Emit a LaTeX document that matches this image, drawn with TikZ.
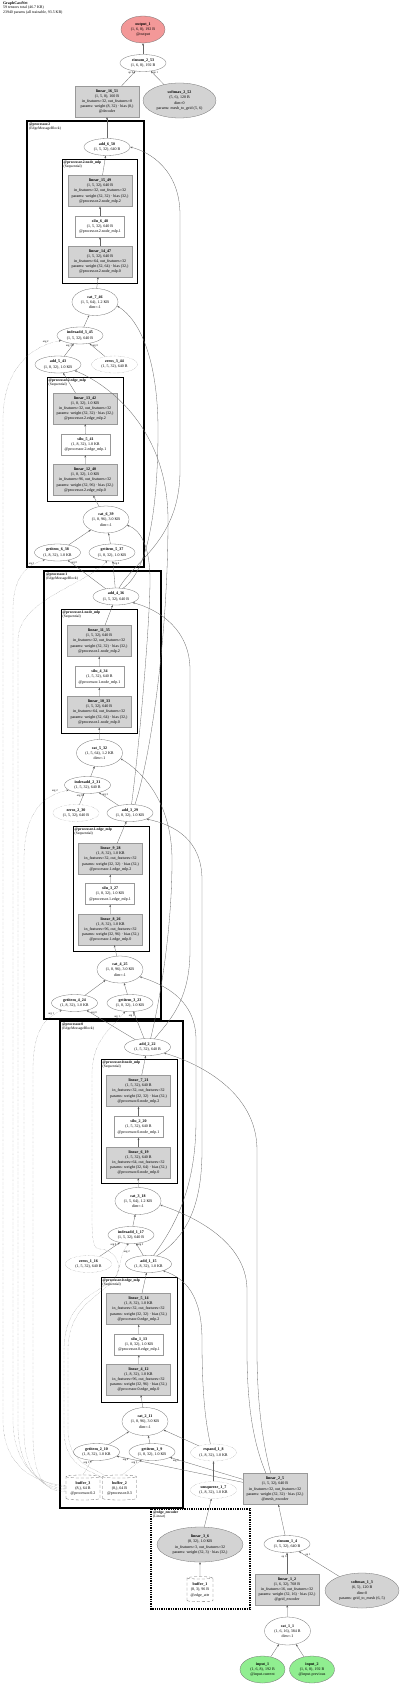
\documentclass[tikz,border=0pt]{standalone}
\usepackage{fontspec}
\setmainfont{Liberation Serif}
\usepackage{xcolor}
\usepackage{tikz}
\usetikzlibrary{shapes.geometric, arrows.meta, positioning}

\definecolor{modfill}{RGB}{211,211,211}
\definecolor{outfill}{RGB}{243,152,152}
\definecolor{infill}{RGB}{144,238,144}

\begin{document}
\begin{tikzpicture}[x=1pt, y=-1pt, >={Stealth[length=2.4pt, width=1.8pt]},
    every node/.style={font=\fontsize{4}{5.2}\selectfont, align=center},
    tensorop/.style={ellipse, draw=black!55, line width=0.3pt, fill=white, inner sep=0pt, minimum width=46pt, minimum height=17pt},
    modop/.style={tensorop, fill=modfill},
    viewop/.style={tensorop, densely dotted},
    layerbox/.style={rectangle, draw=black!40, line width=0.3pt, fill=modfill, inner sep=1pt, minimum width=64pt, minimum height=31pt},
    actbox/.style={rectangle, draw=black!40, line width=0.3pt, fill=white, inner sep=1pt, minimum width=49pt, minimum height=21pt},
    bufcyl/.style={cylinder, shape border rotate=90, aspect=0.12, draw=black!60, densely dashed, line width=0.3pt, fill=white, inner sep=0.5pt, minimum width=34pt, minimum height=25pt},
    block/.style={draw=black, line width=1.3pt},
    seq/.style={draw=black, line width=0.9pt},
    tag/.style={anchor=north west, align=left, inner sep=0pt, font=\fontsize{3.7}{4.1}\selectfont},
    lbl/.style={font=\fontsize{2.8}{3}\selectfont, inner sep=0.4pt},
    flow/.style={->, draw=black!60, line width=0.3pt},
    idx/.style={flow, densely dotted}]

\useasboundingbox (0,0) rectangle (400,1685);

\node[anchor=north west, align=left, inner sep=0pt, font=\fontsize{3.9}{4.5}\selectfont] (header) at (3,1.5)
  {\textbf{GraphCastNet}\\59 tensors total (46.7 KB)\\23940 params (all trainable, 93.5 KB)};

% clusters
\draw[block] (27,121) rectangle (144,567);
\node[tag] (p2tag) at (29,123) {\textbf{@processor.2}\\(EdgeMessageBlock)};
\draw[seq] (62,159) rectangle (137,283);
\node[tag] (p2ntag) at (63.5,160.5) {\textbf{@processor.2.node\_mlp}\\(Sequential)};
\draw[seq] (47,377) rectangle (123,501);
\node[tag] (p2etag) at (48.5,378.5) {\textbf{@processor.2.edge\_mlp}\\(Sequential)};

\draw[block] (44,571) rectangle (161,1019);
\node[tag] (p1tag) at (46,573) {\textbf{@processor.1}\\(EdgeMessageBlock)};
\draw[seq] (61,609) rectangle (137,733);
\node[tag] (p1ntag) at (62.5,610.5) {\textbf{@processor.1.node\_mlp}\\(Sequential)};
\draw[seq] (73,826) rectangle (149,951);
\node[tag] (p1etag) at (74.5,827.5) {\textbf{@processor.1.edge\_mlp}\\(Sequential)};

\draw[block] (60,1021) rectangle (183,1508);
\node[tag] (p0tag) at (62,1023) {\textbf{@processor.0}\\(EdgeMessageBlock)};
\draw[seq] (101,1059) rectangle (177,1183);
\node[tag] (p0ntag) at (102.5,1060.5) {\textbf{@processor.0.node\_mlp}\\(Sequential)};
\draw[seq] (101,1277) rectangle (177,1402);
\node[tag] (p0etag) at (102.5,1278.5) {\textbf{@processor.0.edge\_mlp}\\(Sequential)};

\draw[block, densely dotted] (151,1509) rectangle (250,1609);
\node[tag] (enctag) at (153,1511) {\textbf{@edge\_encoder}\\(Linear)};

% decoder
\node[tensorop, fill=outfill, minimum width=44pt, minimum height=27pt] (output_1) at (143,29.5) {\textbf{output\_1}\\(1, 6, 8), 192 B\\@output};
\node[tensorop] (einsum_2_53) at (143,63) {\textbf{einsum\_2\_53}\\(1, 6, 8), 192 B};
\node[layerbox] (linear_16_51) at (107,101.5) {\textbf{linear\_16\_51}\\(1, 5, 8), 160 B\\in\_features=32, out\_features=8\\params: weight (8, 32) · bias (8,)\\@decoder};
\node[modop, minimum width=73pt, minimum height=35pt] (softmax_2_52) at (179.5,100.5) {\textbf{softmax\_2\_52}\\(5, 6), 120 B\\dim=0\\params: mesh\_to\_grid (5, 6)};

% processor.2
\node[tensorop] (add_6_50) at (107,147) {\textbf{add\_6\_50}\\(1, 5, 32), 640 B};
\node[layerbox] (linear_15_49) at (100,191) {\textbf{linear\_15\_49}\\(1, 5, 32), 640 B\\in\_features=32, out\_features=32\\params: weight (32, 32) · bias (32,)\\@processor.2.node\_mlp.2};
\node[actbox] (silu_6_48) at (100,226.5) {\textbf{silu\_6\_48}\\(1, 5, 32), 640 B\\@processor.2.node\_mlp.1};
\node[layerbox] (linear_14_47) at (100,261.5) {\textbf{linear\_14\_47}\\(1, 5, 32), 640 B\\in\_features=64, out\_features=32\\params: weight (32, 64) · bias (32,)\\@processor.2.node\_mlp.0};
\node[tensorop, minimum height=27pt] (cat_7_46) at (95,302) {\textbf{cat\_7\_46}\\(1, 5, 64), 1.2 KB\\dim=-1};
\node[tensorop] (indexadd_3_45) at (80,335.5) {\textbf{indexadd\_3\_45}\\(1, 5, 32), 640 B};
\node[tensorop] (add_5_43) at (58,364.5) {\textbf{add\_5\_43}\\(1, 8, 32), 1.0 KB};
\node[viewop] (zeros_3_44) at (114.5,364.5) {\textbf{zeros\_3\_44}\\(1, 5, 32), 640 B};
\node[layerbox] (linear_13_42) at (85,408.5) {\textbf{linear\_13\_42}\\(1, 8, 32), 1.0 KB\\in\_features=32, out\_features=32\\params: weight (32, 32) · bias (32,)\\@processor.2.edge\_mlp.2};
\node[actbox] (silu_5_41) at (85.5,444.5) {\textbf{silu\_5\_41}\\(1, 8, 32), 1.0 KB\\@processor.2.edge\_mlp.1};
\node[layerbox] (linear_12_40) at (85,480) {\textbf{linear\_12\_40}\\(1, 8, 32), 1.0 KB\\in\_features=96, out\_features=32\\params: weight (32, 96) · bias (32,)\\@processor.2.edge\_mlp.0};
\node[tensorop, minimum height=27pt] (cat_6_39) at (106,519.5) {\textbf{cat\_6\_39}\\(1, 8, 96), 3.0 KB\\dim=-1};
\node[tensorop] (getitem_6_38) at (57.5,552.5) {\textbf{getitem\_6\_38}\\(1, 8, 32), 1.0 KB};
\node[tensorop] (getitem_5_37) at (112,552.5) {\textbf{getitem\_5\_37}\\(1, 8, 32), 1.0 KB};

% processor.1
\node[tensorop] (add_4_36) at (116,596.5) {\textbf{add\_4\_36}\\(1, 5, 32), 640 B};
\node[layerbox] (linear_11_35) at (99,641) {\textbf{linear\_11\_35}\\(1, 5, 32), 640 B\\in\_features=32, out\_features=32\\params: weight (32, 32) · bias (32,)\\@processor.1.node\_mlp.2};
\node[actbox] (silu_4_34) at (99.5,677) {\textbf{silu\_4\_34}\\(1, 5, 32), 640 B\\@processor.1.node\_mlp.1};
\node[layerbox] (linear_10_33) at (99,712) {\textbf{linear\_10\_33}\\(1, 5, 32), 640 B\\in\_features=64, out\_features=32\\params: weight (32, 64) · bias (32,)\\@processor.1.node\_mlp.0};
\node[tensorop, minimum height=27pt] (cat_5_32) at (99.5,753) {\textbf{cat\_5\_32}\\(1, 5, 64), 1.2 KB\\dim=-1};
\node[tensorop] (indexadd_2_31) at (87.5,785) {\textbf{indexadd\_2\_31}\\(1, 5, 32), 640 B};
\node[viewop] (zeros_2_30) at (76,813) {\textbf{zeros\_2\_30}\\(1, 5, 32), 640 B};
\node[tensorop] (add_3_29) at (130,813) {\textbf{add\_3\_29}\\(1, 8, 32), 1.0 KB};
\node[layerbox] (linear_9_28) at (110.5,859) {\textbf{linear\_9\_28}\\(1, 8, 32), 1.0 KB\\in\_features=32, out\_features=32\\params: weight (32, 32) · bias (32,)\\@processor.1.edge\_mlp.2};
\node[actbox] (silu_3_27) at (110,894) {\textbf{silu\_3\_27}\\(1, 8, 32), 1.0 KB\\@processor.1.edge\_mlp.1};
\node[layerbox] (linear_8_26) at (110.5,929.5) {\textbf{linear\_8\_26}\\(1, 8, 32), 1.0 KB\\in\_features=96, out\_features=32\\params: weight (32, 96) · bias (32,)\\@processor.1.edge\_mlp.0};
\node[tensorop, minimum height=27pt] (cat_4_25) at (120,969.5) {\textbf{cat\_4\_25}\\(1, 8, 96), 3.0 KB\\dim=-1};
\node[tensorop] (getitem_4_24) at (74.5,1003) {\textbf{getitem\_4\_24}\\(1, 8, 32), 1.0 KB};
\node[tensorop] (getitem_3_23) at (130,1003) {\textbf{getitem\_3\_23}\\(1, 8, 32), 1.0 KB};

% processor.0
\node[tensorop] (add_2_22) at (147.5,1047) {\textbf{add\_2\_22}\\(1, 5, 32), 640 B};
\node[layerbox] (linear_7_21) at (138.5,1091) {\textbf{linear\_7\_21}\\(1, 5, 32), 640 B\\in\_features=32, out\_features=32\\params: weight (32, 32) · bias (32,)\\@processor.0.node\_mlp.2};
\node[actbox] (silu_2_20) at (138.5,1127) {\textbf{silu\_2\_20}\\(1, 5, 32), 640 B\\@processor.0.node\_mlp.1};
\node[layerbox] (linear_6_19) at (138.5,1162.5) {\textbf{linear\_6\_19}\\(1, 5, 32), 640 B\\in\_features=64, out\_features=32\\params: weight (32, 64) · bias (32,)\\@processor.0.node\_mlp.0};
\node[tensorop, minimum height=27pt] (cat_3_18) at (138,1201) {\textbf{cat\_3\_18}\\(1, 5, 64), 1.2 KB\\dim=-1};
\node[tensorop] (indexadd_1_17) at (131,1235) {\textbf{indexadd\_1\_17}\\(1, 5, 32), 640 B};
\node[viewop] (zeros_1_16) at (88.5,1264) {\textbf{zeros\_1\_16}\\(1, 5, 32), 640 B};
\node[tensorop] (add_1_15) at (148.5,1264) {\textbf{add\_1\_15}\\(1, 8, 32), 1.0 KB};
\node[layerbox] (linear_5_14) at (138.5,1309) {\textbf{linear\_5\_14}\\(1, 8, 32), 1.0 KB\\in\_features=32, out\_features=32\\params: weight (32, 32) · bias (32,)\\@processor.0.edge\_mlp.2};
\node[actbox] (silu_1_13) at (139,1344.5) {\textbf{silu\_1\_13}\\(1, 8, 32), 1.0 KB\\@processor.0.edge\_mlp.1};
\node[layerbox] (linear_4_12) at (138.5,1379.5) {\textbf{linear\_4\_12}\\(1, 8, 32), 1.0 KB\\in\_features=96, out\_features=32\\params: weight (32, 96) · bias (32,)\\@processor.0.edge\_mlp.0};
\node[tensorop, minimum height=28pt] (cat_2_11) at (145,1421.5) {\textbf{cat\_2\_11}\\(1, 8, 96), 3.0 KB\\dim=-1};
\node[tensorop] (getitem_2_10) at (96.5,1452) {\textbf{getitem\_2\_10}\\(1, 8, 32), 1.0 KB};
\node[tensorop] (getitem_1_9) at (152,1452) {\textbf{getitem\_1\_9}\\(1, 8, 32), 1.0 KB};
\node[bufcyl] (buffer_3) at (83,1488.5) {\textbf{buffer\_3}\\(8,), 64 B\\@processor.0.2};
\node[bufcyl] (buffer_2) at (119.5,1488.5) {\textbf{buffer\_2}\\(8,), 64 B\\@processor.0.3};

% encoders
\node[viewop] (expand_1_8) at (213.5,1452.5) {\textbf{expand\_1\_8}\\(1, 8, 32), 1.0 KB};
\node[viewop] (unsqueeze_1_7) at (213.5,1490) {\textbf{unsqueeze\_1\_7}\\(1, 8, 32), 1.0 KB};
\node[layerbox] (linear_2_5) at (275,1489) {\textbf{linear\_2\_5}\\(1, 5, 32), 640 B\\in\_features=32, out\_features=32\\params: weight (32, 32) · bias (32,)\\@mesh\_encoder};
\node[modop, minimum width=86pt, minimum height=35pt] (linear_3_6) at (200,1544.5) {\textbf{linear\_3\_6}\\(8, 32), 1.0 KB\\in\_features=3, out\_features=32\\params: weight (32, 3) · bias (32,)};
\node[bufcyl, minimum width=26pt] (buffer_1) at (200,1590) {\textbf{buffer\_1}\\(8, 3), 96 B\\@edge\_attr};
\node[tensorop] (einsum_1_4) at (287,1544) {\textbf{einsum\_1\_4}\\(1, 5, 32), 640 B};
\node[layerbox] (linear_1_2) at (287,1589.5) {\textbf{linear\_1\_2}\\(1, 6, 32), 768 B\\in\_features=16, out\_features=32\\params: weight (32, 16) · bias (32,)\\@grid\_encoder};
\node[modop, minimum width=74pt, minimum height=35pt] (softmax_1_3) at (362,1590.5) {\textbf{softmax\_1\_3}\\(6, 5), 120 B\\dim=0\\params: grid\_to\_mesh (6, 5)};
\node[tensorop, minimum height=28pt] (cat_1_1) at (287.5,1631) {\textbf{cat\_1\_1}\\(1, 6, 16), 384 B\\dim=-1};
\node[tensorop, fill=infill, minimum width=45pt, minimum height=27pt] (input_1) at (262.5,1669.5) {\textbf{input\_1}\\(1, 6, 8), 192 B\\@input.current};
\node[tensorop, fill=infill, minimum width=45pt, minimum height=27pt] (input_2) at (312,1669.5) {\textbf{input\_2}\\(1, 6, 8), 192 B\\@input.previous};

% straight connectors
\path[flow]
  (einsum_2_53) edge (output_1)
  (linear_16_51) edge node[lbl, pos=0.88, left] {op 0} (einsum_2_53)
  (softmax_2_52) edge node[lbl, pos=0.88, right] {op 1} (einsum_2_53)
  (add_6_50) edge (linear_16_51)
  (linear_15_49) edge (add_6_50)
  (silu_6_48) edge (linear_15_49)
  (linear_14_47) edge (silu_6_48)
  (cat_7_46) edge (linear_14_47)
  (indexadd_3_45) edge (cat_7_46)
  (add_5_43) edge node[lbl, pos=0.85, left] {arg 3} (indexadd_3_45)
  (zeros_3_44) edge node[lbl, pos=0.85, right] {arg 0} (indexadd_3_45)
  (linear_13_42) edge (add_5_43)
  (silu_5_41) edge (linear_13_42)
  (linear_12_40) edge (silu_5_41)
  (cat_6_39) edge (linear_12_40)
  (getitem_6_38) edge (cat_6_39)
  (getitem_5_37) edge (cat_6_39)
  (add_4_36) edge node[lbl, pos=0.92, right] {arg 0} (getitem_6_38)
  (add_4_36) edge node[lbl, pos=0.88, right] {arg 0} (getitem_5_37)
  (linear_11_35) edge (add_4_36)
  (silu_4_34) edge (linear_11_35)
  (linear_10_33) edge (silu_4_34)
  (cat_5_32) edge (linear_10_33)
  (indexadd_2_31) edge (cat_5_32)
  (zeros_2_30) edge node[lbl, pos=0.8, left] {arg 0} (indexadd_2_31)
  (add_3_29) edge node[lbl, pos=0.85, right] {arg 3} (indexadd_2_31)
  (linear_9_28) edge (add_3_29)
  (silu_3_27) edge (linear_9_28)
  (linear_8_26) edge (silu_3_27)
  (cat_4_25) edge (linear_8_26)
  (getitem_4_24) edge (cat_4_25)
  (getitem_3_23) edge (cat_4_25)
  (add_2_22) edge node[lbl, pos=0.92, right] {arg 0} (getitem_4_24)
  (add_2_22) edge node[lbl, pos=0.85, left] {arg 0} (getitem_3_23)
  (linear_7_21) edge (add_2_22)
  (silu_2_20) edge (linear_7_21)
  (linear_6_19) edge (silu_2_20)
  (cat_3_18) edge (linear_6_19)
  (indexadd_1_17) edge (cat_3_18)
  (zeros_1_16) edge node[lbl, pos=0.85, left] {arg 0} (indexadd_1_17)
  (add_1_15) edge node[lbl, pos=0.85, right] {arg 3} (indexadd_1_17)
  (linear_5_14) edge (add_1_15)
  (silu_1_13) edge (linear_5_14)
  (linear_4_12) edge (silu_1_13)
  (cat_2_11) edge (linear_4_12)
  (getitem_2_10) edge (cat_2_11)
  (getitem_1_9) edge (cat_2_11)
  (expand_1_8) edge (cat_2_11)
  (linear_2_5) edge node[lbl, pos=0.93, below] {arg 0} (getitem_2_10)
  (linear_2_5) edge node[lbl, pos=0.92, below] {arg 0} (getitem_1_9)
  (unsqueeze_1_7) edge (expand_1_8)
  (linear_3_6) edge (unsqueeze_1_7)
  (buffer_1) edge (linear_3_6)
  (einsum_1_4) edge (linear_2_5)
  (linear_1_2) edge node[lbl, pos=0.8, left] {op 0} (einsum_1_4)
  (softmax_1_3) edge node[lbl, pos=0.85, right] {op 1} (einsum_1_4)
  (cat_1_1) edge (linear_1_2)
  (input_1) edge (cat_1_1)
  (input_2) edge (cat_1_1);

% residual links on the right
\draw[flow] (add_4_36.70) .. controls (135,560) and (180,540) .. (180,470) -- (180,215) .. controls (180,170) and (150,152) .. (add_6_50.east);
\draw[flow] (add_4_36.50) .. controls (150,570) and (158,500) .. (158,430) .. controls (158,360) and (140,320) .. (cat_7_46.-10);
\draw[flow] (add_3_29.60) .. controls (150,760) and (168,640) .. (168,520) .. controls (168,430) and (110,385) .. (add_5_43.-20);
\draw[flow] (add_3_29.80) .. controls (140,740) and (150,620) .. (150,580) .. controls (150,545) and (140,530) .. (cat_6_39.-15);
\draw[flow] (add_2_22.50) .. controls (170,1020) and (190,1000) .. (190,950) -- (190,670) .. controls (190,630) and (160,610) .. (add_4_36.-20);
\draw[flow] (add_2_22.70) .. controls (160,1000) and (172,930) .. (172,860) .. controls (172,800) and (140,770) .. (cat_5_32.-15);
\draw[flow] (add_1_15.45) .. controls (190,1235) and (202,1200) .. (202,1150) -- (202,880) .. controls (202,840) and (175,825) .. (add_3_29.-20);
\draw[flow] (add_1_15.60) .. controls (180,1220) and (196,1180) .. (196,1120) -- (196,1040) .. controls (196,1000) and (165,985) .. (cat_4_25.-20);
\draw[flow] (linear_2_5.105) .. controls (262,1440) and (257,1400) .. (257,1350) -- (257,1150) .. controls (257,1090) and (195,1062) .. (add_2_22.-20);
\draw[flow] (linear_2_5.120) .. controls (252,1440) and (247,1400) .. (247,1350) -- (247,1290) .. controls (247,1240) and (190,1215) .. (cat_3_18.-10);
\draw[flow] (expand_1_8.110) .. controls (205,1420) and (202,1390) .. (202,1340) .. controls (202,1295) and (185,1278) .. (add_1_15.-25);

% index buffers
\draw[idx] (buffer_3.90) -- (getitem_2_10) node[lbl, pos=0.8, left] {arg 1};
\draw[idx] (buffer_2.80) -- (getitem_1_9) node[lbl, pos=0.8, left] {arg 1};
\draw[idx] (buffer_3.170) .. controls (40,1484) and (3,1470) .. (3,1420) -- (3,420) .. controls (3,365) and (35,345) .. (indexadd_3_45.-165) node[lbl, pos=0.85, above left] {arg 2};
\draw[idx] (buffer_3.175) .. controls (45,1486) and (13,1470) .. (13,1420) -- (13,610) .. controls (13,575) and (28,565) .. (getitem_6_38.-150) node[lbl, pos=0.8, left] {arg 1};
\draw[idx] (buffer_3.180) .. controls (45,1488) and (18,1474) .. (18,1425) -- (18,640) .. controls (18,600) and (85,585) .. (getitem_5_37.-120) node[lbl, pos=0.9, left] {arg 1};
\draw[idx] (buffer_3.185) .. controls (45,1490) and (24,1476) .. (24,1430) -- (24,860) .. controls (24,810) and (45,795) .. (indexadd_2_31.-165) node[lbl, pos=0.85, above left] {arg 2};
\draw[idx] (buffer_3.190) .. controls (45,1492) and (33,1478) .. (33,1435) -- (33,1070) .. controls (33,1030) and (45,1018) .. (getitem_4_24.-150) node[lbl, pos=0.85, left] {arg 1};
\draw[idx] (buffer_2.150) .. controls (95,1470) and (64,1470) .. (64,1430) -- (64,1350) .. controls (64,1295) and (108,1290) .. (116,1276) .. controls (124,1262) and (112,1249) .. (100,1249) .. controls (93,1249) and (92,1240) .. (92,1215) -- (92,1075) .. controls (92,1040) and (110,1030) .. (getitem_3_23.-120) node[lbl, pos=0.9, left] {arg 1};
\draw[idx] (buffer_2.140) .. controls (97,1468) and (68,1466) .. (68,1430) -- (68,1350) .. controls (68,1300) and (112,1292) .. (118,1272) .. controls (121,1262) and (121,1252) .. (indexadd_1_17.-105) node[lbl, pos=0.7, right] {arg 2};

\end{tikzpicture}
\end{document}
